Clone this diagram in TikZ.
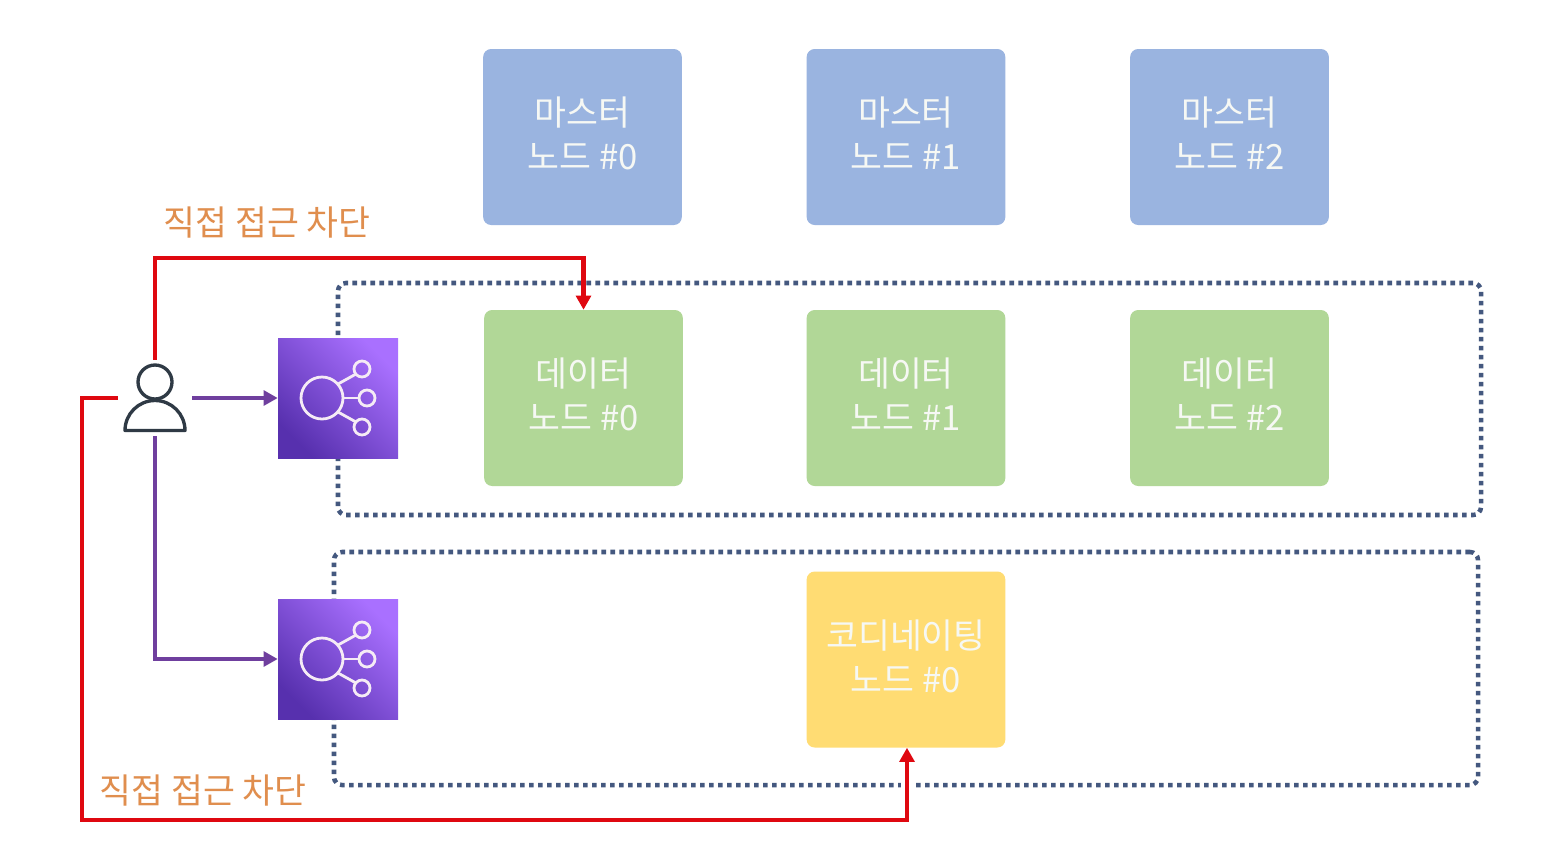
\documentclass[tikz,border=0pt]{standalone}
\usepackage{fontspec}
\setmainfont{Noto Sans CJK KR}
\usetikzlibrary{arrows.meta}
\definecolor{nodeblue}{HTML}{9AB4E0}
\definecolor{nodegreen}{HTML}{B1D797}
\definecolor{nodeyellow}{HTML}{FFDC73}
\definecolor{dotblue}{HTML}{44587F}
\definecolor{blockred}{HTML}{DF0810}
\definecolor{flowpurple}{HTML}{6F3F9E}
\definecolor{noteorange}{HTML}{E08E4E}
\definecolor{labelwhite}{HTML}{F6F8F4}
\definecolor{userdark}{HTML}{2F3A45}
\definecolor{iconlow}{HTML}{5730AE}
\definecolor{iconhigh}{HTML}{A970FF}
\newcommand{\lift}[1]{\raisebox{-0.4pt}[0.85em][0.25em]{#1}}
\tikzset{
  nodebox/.style={rounded corners=6pt,minimum width=149pt,minimum height=132pt,inner sep=0pt,align=center,text=labelwhite,font=\fontsize{26}{33}\selectfont},
  dotbox/.style={draw=dotblue,line width=3.4pt,rounded corners=6pt,dash pattern=on 3.5pt off 3.25pt,inner sep=0pt},
  iconbox/.style={minimum size=90pt,inner sep=0pt,shading=axis,bottom color=iconlow,top color=iconhigh,shading angle=-45},
  redline/.style={draw=blockred,line width=3.4pt},
  purpleline/.style={draw=flowpurple,line width=3.7pt},
  redtip/.style={-{Triangle[width=11pt,length=10.5pt]}},
  purpletip/.style={-{Triangle[width=11pt,length=10.5pt]}},
  note/.style={text=noteorange,font=\fontsize{26}{30}\selectfont,inner sep=0pt},
  iconstroke/.style={draw=white!92!violet,line width=2.1pt},
  userstroke/.style={draw=userdark,line width=2.5pt},
  anchorbox/.style={minimum width=55.5pt,minimum height=57pt,inner sep=0pt}
}
\newcommand{\elbicon}[1]{%
  \begin{scope}[shift={#1}]
    \draw[iconstroke] (44,60) circle (21);
    \draw[iconstroke] (84,31) circle (8);
    \draw[iconstroke] (89,60) circle (8);
    \draw[iconstroke] (84,89) circle (8);
    \draw[iconstroke] (60,46) -- (78,36);
    \draw[iconstroke] (65,60) -- (81,60);
    \draw[iconstroke] (60,74) -- (78,84);
  \end{scope}}
\begin{document}
\begin{tikzpicture}[x=0.75pt,y=-0.75pt]
\useasboundingbox (0,0) rectangle (1544,851);
\fill[white] (0,0) rectangle (1544,851);
% dotted groups
\node[dotbox,minimum width=857.25pt,minimum height=174pt] (dataGroup) at (909.5,399) {};
\node[dotbox,minimum width=858pt,minimum height=174.75pt] (coordGroup) at (906,668.5) {};
% master nodes
\node[nodebox,fill=nodeblue] (m0) at (582.5,137) {\lift{마스터}\\\lift{노드 \#0}};
\node[nodebox,fill=nodeblue] (m1) at (906,137) {\lift{마스터}\\\lift{노드 \#1}};
\node[nodebox,fill=nodeblue] (m2) at (1229.5,137) {\lift{마스터}\\\lift{노드 \#2}};
% data nodes
\node[nodebox,fill=nodegreen] (d0) at (583.5,398) {\lift{데이터}\\\lift{노드 \#0}};
\node[nodebox,fill=nodegreen] (d1) at (906,398) {\lift{데이터}\\\lift{노드 \#1}};
\node[nodebox,fill=nodegreen] (d2) at (1229.5,398) {\lift{데이터}\\\lift{노드 \#2}};
% coordinating
\node[nodebox,fill=nodeyellow] (c0) at (906,659.5) {\lift{코디네이팅}\\\lift{노드 \#0}};
% load balancers
\node[iconbox] (lb1) at (338,398) {};
\node[iconbox] (lb2) at (338,659) {};
\elbicon{(278,338)}
\elbicon{(278,599)}
% user
\node[anchorbox] (user) at (155,398) {};
\draw[userstroke] (155,382) circle (17);
\draw[userstroke,line join=round] (125,430.5) -- (185,430.5) arc[start angle=0,end angle=-180,x radius=30,y radius=30] -- cycle;
% labels
\node[note] (n1) at (267,222.5) {직접 접근 차단};
\node[note] (n2) at (203,790.5) {직접 접근 차단};
% connectors
\coordinate (topbend) at (155,258);
\coordinate (lowbend) at (82,820);
\draw[purpleline,purpletip] (user.east) -- (lb1.west);
\draw[purpleline,purpletip] (user.south) |- (lb2.west);
\draw[white,line width=9pt] (907,775) -- (907,795);
\draw[redline,redtip] (user.north) -- (topbend) -| (d0.north);
\draw[redline,redtip] (user.west) -| (lowbend) -| ([xshift=0.75pt]c0.south);
\end{tikzpicture}
\end{document}
